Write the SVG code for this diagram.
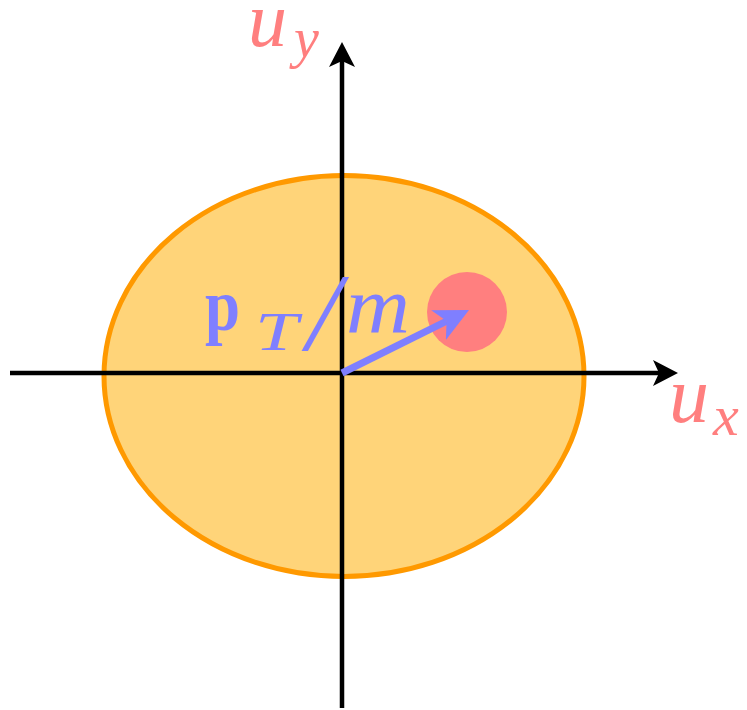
<svg xmlns="http://www.w3.org/2000/svg" width="747" height="710" viewBox="0 0 747 710">
<style>
.lbl{font-family:"Liberation Serif","DejaVu Serif",serif;font-style:italic;}
.red{fill:#FF7F7F;}
.blue{fill:#7F7FFF;}
.axis{stroke:#000;stroke-width:4.5;fill:none;}
</style>
<defs>
<marker id="ah" viewBox="0 0 25 26" refX="6" refY="13" markerWidth="25" markerHeight="26" markerUnits="userSpaceOnUse" orient="auto">
<path d="M0,0 L25,13 L0,26 L6,13 Z" fill="#000"/>
</marker>
<marker id="bh" viewBox="0 0 34 33" refX="9" refY="16.5" markerWidth="34" markerHeight="33" markerUnits="userSpaceOnUse" orient="auto">
<path d="M0,0 L34,16.5 L0,33 L9,16.5 Z" fill="#7F7FFF"/>
</marker>
</defs>
<rect width="747" height="710" fill="#fff"/>
<g id="region">
<ellipse cx="344" cy="376" rx="240" ry="200.5" fill="#FFD479" stroke="#FF9900" stroke-width="5"/>
</g>
<g id="particle">
<circle cx="467" cy="312" r="40" fill="#FF7F7F"/>
</g>
<g id="connectors">
<line class="axis" x1="10" y1="373" x2="659" y2="373" marker-end="url(#ah)"/>
<line class="axis" x1="342" y1="708" x2="342" y2="61" marker-end="url(#ah)"/>
<line x1="342" y1="373" x2="446.6" y2="321.1" stroke="#7F7FFF" stroke-width="7" marker-end="url(#bh)"/>
</g>
<g id="label-uy">
<text class="lbl red" x="248" y="46" font-size="78">u</text>
<text class="lbl red" x="294" y="57" font-size="56">y</text>
</g>
<g id="label-ux">
<text class="lbl red" x="669" y="422" font-size="80">u</text>
<text class="lbl red" x="713" y="435" font-size="58">x</text>
</g>
<g id="label-pt">
<text class="blue" x="205" y="330" font-size="74" font-family="Liberation Serif, DejaVu Serif, serif" font-weight="bold" textLength="35" lengthAdjust="spacingAndGlyphs">p</text>
<text class="lbl blue" x="255" y="350" font-size="54" textLength="43" lengthAdjust="spacingAndGlyphs">T</text>
<text class="lbl blue" x="307" y="350" font-size="110" textLength="33" lengthAdjust="spacingAndGlyphs">/</text>
<text class="lbl blue" x="346" y="332" font-size="80" textLength="64" lengthAdjust="spacingAndGlyphs">m</text>
</g>
</svg>
